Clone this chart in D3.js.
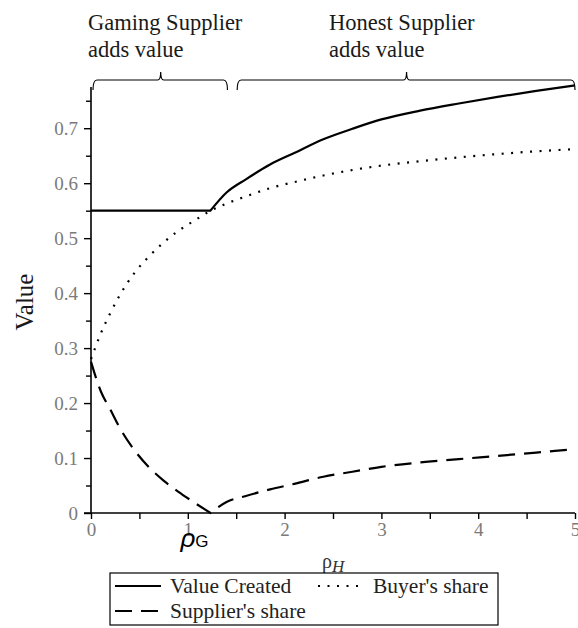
<!DOCTYPE html>
<html><head><meta charset="utf-8">
<script src="https://cdn.jsdelivr.net/npm/d3@7/dist/d3.min.js"></script>
<style>body{margin:0;background:#fff}svg{display:block}</style>
</head><body>
<svg id="c" width="578" height="628"></svg>
<script>
// ---- data ----
const rho = [0, 0.1, 0.2, 0.3, 0.45, 0.6, 0.75, 0.9, 1.05, 1.234, 1.4, 1.6, 1.85, 2.1, 2.4, 2.7, 3.0, 3.4, 3.8, 4.2, 4.6, 5.0];
const valueCreated = [0.55, 0.55, 0.55, 0.55, 0.55, 0.55, 0.55, 0.55, 0.55, 0.55, 0.583, 0.607, 0.634, 0.655, 0.680, 0.699, 0.716, 0.732, 0.745, 0.757, 0.768, 0.778];
const buyerShare = [0.28, 0.326, 0.364, 0.397, 0.437, 0.467, 0.492, 0.513, 0.530, 0.55, 0.563, 0.576, 0.591, 0.602, 0.614, 0.624, 0.632, 0.640, 0.647, 0.653, 0.658, 0.662];
const supplierShare = [0.275, 0.222, 0.188, 0.154, 0.114, 0.083, 0.059, 0.039, 0.021, 0.0, 0.020, 0.031, 0.043, 0.053, 0.066, 0.075, 0.084, 0.092, 0.098, 0.104, 0.110, 0.116];
const rhoG = 1.234;
const xTicks = [0, 1, 2, 3, 4, 5];
const yTicks = [0, 0.1, 0.2, 0.3, 0.4, 0.5, 0.6, 0.7];
const seriesNames = ["Value Created", "Buyer's share", "Supplier's share"];

// ---- layout ----
const svg = d3.select("#c");
const x = d3.scaleLinear().domain([0, 5]).range([91, 575]);
const y = d3.scaleLinear().domain([0, 0.775]).range([513, 87]);
const serif = "'Liberation Serif','Times New Roman',serif";
const sans = "'Liberation Sans',Arial,sans-serif";

// axes
const xAxis = d3.axisBottom(x).tickValues(xTicks).tickFormat(d3.format("d")).tickSize(6).tickPadding(4);
const xMinor = d3.axisBottom(x).tickValues(d3.range(0.5, 5, 1)).tickFormat("").tickSize(6);
const yAxis = d3.axisLeft(y).tickValues(yTicks).tickFormat(d => d === 0 ? "0" : d3.format(".1f")(d)).tickSize(7).tickPadding(6);
const yMinor = d3.axisLeft(y).tickValues(d3.range(0.05, 0.76, 0.1)).tickFormat("").tickSize(5);

function styleAxis(g) {
  g.select(".domain").attr("stroke", "#000").attr("stroke-width", 1.6);
  g.selectAll(".tick line").attr("stroke", "#000").attr("stroke-width", 1.4);
  g.selectAll(".tick text").attr("fill", "#7a7a7a").attr("font-family", serif).attr("font-size", 19);
}
svg.append("g").attr("transform", "translate(0,513)").call(xMinor).call(styleAxis).select(".domain").remove();
const gx = svg.append("g").attr("transform", "translate(0,513)").call(xAxis).call(styleAxis);
gx.select(".domain").attr("d", "M84,0H575");
svg.append("g").attr("transform", "translate(91,0)").call(yMinor).call(styleAxis).select(".domain").remove();
const gy = svg.append("g").attr("transform", "translate(91,0)").call(yAxis).call(styleAxis);
gy.select(".domain").attr("d", "M0,513V87");

// lines
const line = d3.line().x(d => x(d[0])).y(d => y(d[1])).curve(d3.curveMonotoneX);
function pathFor(vals) {
  const pts = rho.map((r, i) => [r, vals[i]]);
  const k = rho.indexOf(rhoG);
  const a = line(pts.slice(0, k + 1));
  const b = line(pts.slice(k)).replace(/^M[^LC]*/, "");
  return a + b;
}
const styles = [
  {vals: valueCreated, dash: null, w: 2.2},
  {vals: buyerShare, dash: "2,7.5", w: 2.2},
  {vals: supplierShare, dash: "17,9", w: 2.2}
];
styles.forEach(s => {
  svg.append("path").attr("d", pathFor(s.vals)).attr("fill", "none").attr("stroke", "#000")
    .attr("stroke-width", s.w).attr("stroke-dasharray", s.dash);
});

// top brackets and labels
function bracket(x0, x1, xm, yTop) {
  const h = 12, r = 4;
  return `M${x0},${yTop + h} Q${x0},${yTop + 2} ${x0 + r},${yTop + 2} L${xm - 3},${yTop + 2} Q${xm},${yTop + 2} ${xm},${yTop - 6} Q${xm},${yTop + 2} ${xm + 3},${yTop + 2} L${x1 - r},${yTop + 2} Q${x1},${yTop + 2} ${x1},${yTop + h}`;
}
svg.append("path").attr("d", bracket(x(0) + 2, x(1.41), x(0.72), 78)).attr("fill", "none").attr("stroke", "#000").attr("stroke-width", 1.2);
svg.append("path").attr("d", bracket(x(1.51), x(5), x(3.26), 78)).attr("fill", "none").attr("stroke", "#000").attr("stroke-width", 1.2);

const topText = svg.append("g").attr("font-family", serif).attr("font-size", 22.5).attr("fill", "#1a1a1a");
topText.append("text").attr("x", 88).attr("y", 30).text("Gaming Supplier");
topText.append("text").attr("x", 88).attr("y", 57).text("adds value");
topText.append("text").attr("x", 329).attr("y", 30).text("Honest Supplier");
topText.append("text").attr("x", 329).attr("y", 57).text("adds value");

// axis titles
svg.append("text").attr("transform", "translate(33,302) rotate(-90)").attr("text-anchor", "middle")
  .attr("font-family", serif).attr("font-size", 25).attr("fill", "#1a1a1a").text("Value");
const xt = svg.append("text").attr("x", 322).attr("y", 568).attr("font-family", serif).attr("font-size", 20).attr("fill", "#333");
xt.append("tspan").text("ρ");
xt.append("tspan").attr("font-style", "italic").attr("font-size", 17).attr("dy", 4).text("H");

// rho_G marker label
const rg = svg.append("text").attr("x", x(rhoG) - 30).attr("y", 547).attr("font-family", sans).attr("fill", "#000");
rg.append("tspan").attr("font-size", 26).attr("font-style", "italic").text("ρ");
rg.append("tspan").attr("font-size", 17).attr("dy", 0).text("G");

// legend
const lg = svg.append("g");
lg.append("rect").attr("x", 110).attr("y", 573).attr("width", 388).attr("height", 52).attr("fill", "#fff").attr("stroke", "#000").attr("stroke-width", 1.2);
const legendItems = [
  {name: seriesNames[0], dash: null, lx: 115, ly: 586},
  {name: seriesNames[1], dash: "2,7.5", lx: 318, ly: 586},
  {name: seriesNames[2], dash: "17,9", lx: 115, ly: 611}
];
legendItems.forEach(it => {
  lg.append("line").attr("x1", it.lx).attr("x2", it.lx + 46).attr("y1", it.ly).attr("y2", it.ly)
    .attr("stroke", "#000").attr("stroke-width", 2.2).attr("stroke-dasharray", it.dash);
  lg.append("text").attr("x", it.lx + 55).attr("y", it.ly + 7).attr("font-family", serif).attr("font-size", 21.5).attr("fill", "#222").text(it.name);
});
</script>
</body></html>
